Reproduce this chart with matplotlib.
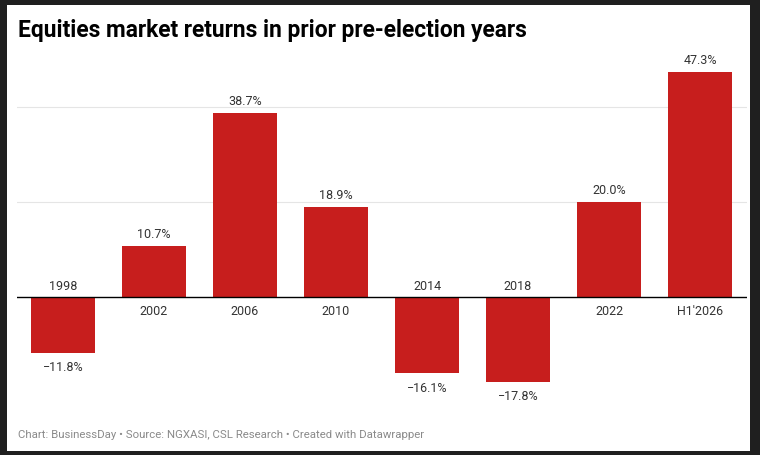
import matplotlib.pyplot as plt
from matplotlib.patches import Rectangle

years = ["1998", "2002", "2006", "2010", "2014", "2018", "2022", "H1'2026"]
returns = [-11.8, 10.7, 38.7, 18.9, -16.1, -17.8, 20.0, 47.3]

plt.rcParams['font.family'] = ['Roboto', 'DejaVu Sans']

W, H = 760, 456
fig = plt.figure(figsize=(W / 100, H / 100), dpi=100)
fig.patch.set_facecolor('#1f1f1f')
# white card inside the dark frame
fig.patches.append(Rectangle((7 / W, 1 - 452 / H), 743 / W, 446 / H,
                             transform=fig.transFigure, facecolor='white',
                             edgecolor='none', zorder=-5))

# axes: x 17..747 px, y 60..393 px
ax = fig.add_axes([17 / W, 1 - 393 / H, 730 / W, 333 / H])
ax.set_zorder(2)
ax.set_facecolor('none')

x = range(len(years))
ax.bar(x, returns, width=0.70, color='#c71e1d', zorder=2)
ax.set_xlim(-0.505, 7.516)
ax.set_ylim(-20, 50)

for g in (20, 40):
    ax.axhline(g, color='#e5e5e5', linewidth=0.8, zorder=1)
ax.axhline(0, color='black', linewidth=1.0, zorder=3)

for i, (yr, v) in enumerate(zip(years, returns)):
    txt = f"{v:.1f}%".replace('-', '\u2212')
    if v >= 0:
        ax.annotate(txt, (i, v), xytext=(0, 12), textcoords='offset pixels',
                    ha='center', va='center', fontsize=9, color='#333333')
        ax.annotate(yr, (i, 0), xytext=(0, -14), textcoords='offset pixels',
                    ha='center', va='center', fontsize=9, color='#333333')
    else:
        ax.annotate(txt, (i, v), xytext=(0, -14), textcoords='offset pixels',
                    ha='center', va='center', fontsize=9, color='#333333')
        ax.annotate(yr, (i, 0), xytext=(0, 11), textcoords='offset pixels',
                    ha='center', va='center', fontsize=9, color='#333333')

ax.axis('off')

fig.text(18 / W, 1 - 31 / H, "Equities market returns in prior pre-election years",
         fontsize=16.4, fontweight='bold', color='black', va='center', ha='left')
fig.text(18 / W, 1 - 435 / H,
         "Chart: BusinessDay \u2022 Source: NGXASI, CSL Research \u2022 Created with Datawrapper",
         fontsize=8.2, color='#8a8a8a', va='center', ha='left')

fig.savefig('out.png', dpi=100, facecolor=fig.get_facecolor())
